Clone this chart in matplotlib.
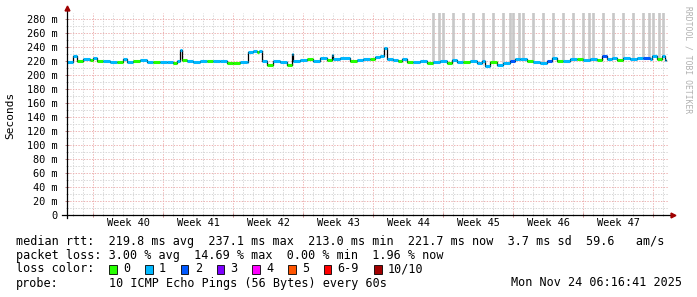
import matplotlib
matplotlib.use('Agg')
import matplotlib.pyplot as plt
import numpy as np
from matplotlib.patches import Rectangle

# time axis: days since Mon 29 Sep 2025 00:00 (start of ISO week 40)
days = [-2.6, -2.0, -1.6, -1.0, -0.3, 0.0, 0.4, 1.0, 1.7, 2.4, 3.0, 3.4, 4.0, 4.7,
        5.4, 6.0, 6.7, 7.4, 8.0, 8.4, 8.7, 8.9, 9.4, 10.0, 10.7, 11.4, 12.0, 12.7,
        13.4, 14.0, 14.7, 15.4, 15.5, 16.0, 16.4, 16.6, 16.9, 17.4, 18.0, 18.7, 19.4,
        19.9, 20.0, 20.7, 21.4, 22.0, 22.7, 23.4, 23.9, 24.0, 24.7, 25.7, 26.4, 27.0,
        27.7, 28.2, 28.7, 29.1, 29.4, 30.0, 30.5, 30.9, 31.4, 32.0, 32.7, 33.4, 34.0,
        34.7, 35.4, 35.9, 36.4, 37.0, 37.7, 38.4, 38.9, 39.2, 39.7, 40.4, 41.0, 41.7,
        42.2, 42.7, 43.4, 44.0, 44.7, 45.4, 45.9, 46.4, 47.0, 47.7, 48.4, 49.0, 49.7,
        50.4, 50.9, 51.4, 51.9, 52.4, 53.0, 53.7, 54.4, 55.0, 55.7, 55.9, 56.4, 56.9,
        57.2]
last_day = 57.3

# median rtt in ms
median_ms = [218, 226, 220, 222, 221, 223.5, 219, 220, 218, 218, 222.6, 218, 219, 221,
             218, 218.5, 218, 218.5, 216.5, 219, 234.6, 221.5, 219, 218, 220, 220, 219, 220,
             216.5, 216.5, 218, 218.5, 233, 234, 233, 234, 219, 214, 219, 218, 214,
             229, 220, 221, 222, 219, 223.5, 221, 228, 222, 224, 220, 221, 222,
             222, 225, 226, 238, 223, 221, 219, 222, 218, 218, 219, 216.5, 218,
             220, 216.5, 221, 218, 218, 220, 216.5, 219, 213, 218, 214, 216.5, 219,
             222, 222, 219, 218, 216.5, 220, 223.5, 219, 220, 222, 222, 221, 222,
             221, 227, 222, 224, 221, 223.5, 222, 223.5, 224, 222, 227, 222, 227,
             221]

# lost pings (of 10) per sample
loss = [1, 1, 0, 1, 0, 1, 0, 1, 1, 0, 1, 1, 0, 1,
        1, 0, 1, 1, 0, 1, 1, 0, 1, 1, 1, 0, 1, 1,
        0, 0, 1, 1, 1, 1, 0, 1, 1, 0, 1, 1, 0,
        1, 1, 1, 0, 1, 1, 0, 1, 1, 1, 0, 1, 1,
        0, 1, 1, 1, 1, 1, 0, 1, 0, 1, 1, 0, 1,
        1, 0, 1, 1, 0, 1, 1, 1, 1, 0, 1, 1, 2,
        1, 1, 0, 1, 1, 2, 1, 0, 1, 1, 0, 1, 1,
        0, 2, 1, 1, 0, 1, 1, 1, 2, 1, 1, 0, 1,
        1]

# samples where single pings went off the scale (smoke)
smoke_days = [34.0, 34.6, 35.0, 36.0, 37.0, 38.0, 39.0, 40.0, 41.0, 41.7, 42.0, 42.6,
              43.0, 44.0, 45.0, 46.0, 47.0, 48.0, 49.0, 49.6, 50.0, 51.0, 52.0, 53.0,
              54.0, 55.0, 55.6, 56.0, 56.6, 57.0]

weeks = [40, 41, 42, 43, 44, 45, 46, 47]

loss_labels = ['0', '1', '2', '3', '4', '5', '6-9', '10/10']
loss_colors = ['#26ff00', '#00b8ff', '#0059ff', '#7e00ff', '#ff00ff', '#ff5500', '#ff0000', '#a10000']

stat_lines = [
    'median rtt:  219.8 ms avg  237.1 ms max  213.0 ms min  221.7 ms now  3.7 ms sd  59.6   am/s',
    'packet loss: 3.00 % avg  14.69 % max  0.00 % min  1.96 % now',
]
probe_text = '10 ICMP Echo Pings (56 Bytes) every 60s'
stamp = 'Mon Nov 24 06:16:41 2025'

W, H = 697, 297
mono = 'DejaVu Sans Mono'
fig = plt.figure(figsize=(W / 100, H / 100), dpi=100)
fig.patch.set_facecolor('white')


def fx(px):
    return px / W


def fy(py):
    return 1 - py / H


ax = fig.add_axes([fx(67), fy(215), fx(668) - fx(67), (215 - 13) / H])
ax.set_xlim(-2.6, 57.5)
ax.set_ylim(0, 288)
for s in ax.spines.values():
    s.set_visible(False)

# grid
dot = (0, (1.4, 1.4))
yt = np.arange(0, 281, 20)
ax.set_yticks(yt)
ax.set_yticks(np.arange(10, 281, 20), minor=True)
ax.set_yticklabels(['0'] + ['%d m' % v for v in yt[1:]])
wb = [7 * i for i in range(len(weeks) + 1)]
ax.set_xticks(wb)
ax.set_xticks(np.arange(-2, 58, 1), minor=True)
ax.set_xticklabels([])
ax.grid(True, which='minor', color='#d6d6d6', linestyle=dot, lw=0.7)
ax.grid(True, which='major', color='#edb2b2', linestyle=dot, lw=0.7)
ax.set_axisbelow(True)
ax.tick_params(axis='y', which='major', length=3, direction='inout', width=0.7,
               color='#c08080', labelsize=7.4, pad=5)
ax.tick_params(axis='y', which='minor', length=2, direction='inout', width=0.7, color='#b0b0b0')
ax.tick_params(axis='x', which='major', length=3, direction='inout', width=0.7, color='#c08080')
ax.tick_params(axis='x', which='minor', length=2, direction='inout', width=0.7, color='#b0b0b0')
for lab in ax.get_yticklabels():
    lab.set_fontfamily(mono)

# week labels centered in each week
for i, w in enumerate(weeks):
    ax.text(7 * i + 3.5, -11.5, 'Week %d' % w, ha='center', va='center',
            fontsize=7.4, family=mono, clip_on=False)

# smoke bars
t = np.array(days)
v = np.array(median_ms)
ax.vlines(smoke_days, np.interp(smoke_days, t, v), 300, colors='#c8c8c8', lw=1.9, zorder=2)

# median line: black step underneath, loss coloured segments on top
t_ext = np.append(t, last_day)
ax.step(t_ext, np.append(v, v[-1]), where='post', color='black', lw=0.9, zorder=3)
seg_colors = [loss_colors[k] for k in loss]
ax.hlines(v, t_ext[:-1], t_ext[1:], colors=seg_colors, lw=2.2, zorder=4)

# axes with arrows
ax.plot([0, 0], [-0.015, 1.02], transform=ax.transAxes, color='black', lw=0.9, clip_on=False, zorder=5)
ax.plot([-0.008, 1.006], [0, 0], transform=ax.transAxes, color='black', lw=0.9, clip_on=False, zorder=5)
ax.plot([0], [1.025], marker='^', ms=3.5, color='#a00000', transform=ax.transAxes, clip_on=False, zorder=6)
ax.plot([1.008], [0], marker='>', ms=3.5, color='#a00000', transform=ax.transAxes, clip_on=False, zorder=6)

# y label and watermark
fig.text(fx(10), fy(115), 'Seconds', rotation=90, ha='center', va='center',
         fontsize=8, family=mono)
fig.text(fx(688), fy(60), 'RRDTOOL / TOBI OETIKER', rotation=270, ha='center', va='center',
         fontsize=5.8, family=mono, color='#b0b0b0')

# legend block
cw = 7.15
x0 = 16
fs = 8.5
fig.text(fx(x0), fy(241), stat_lines[0], ha='left', va='center', fontsize=fs, family=mono)
fig.text(fx(x0), fy(255), stat_lines[1], ha='left', va='center', fontsize=fs, family=mono)
fig.text(fx(x0), fy(269), 'loss color:', ha='left', va='center', fontsize=fs, family=mono)
col = 13
for lab, c in zip(loss_labels, loss_colors):
    bx = x0 + col * cw + 0.5
    fig.patches.append(Rectangle((fx(bx), fy(273.5)), 7.5 / W, 9 / H, transform=fig.transFigure,
                                 facecolor=c, edgecolor='black', lw=0.6))
    fig.text(fx(x0 + (col + 2) * cw), fy(269), lab, ha='left', va='center', fontsize=fs, family=mono)
    col += 2 + len(lab) + 2
fig.text(fx(x0), fy(283), 'probe:', ha='left', va='center', fontsize=fs, family=mono)
fig.text(fx(x0 + 13 * cw), fy(283), probe_text, ha='left', va='center', fontsize=fs, family=mono)
fig.text(fx(682), fy(283), stamp, ha='right', va='center', fontsize=fs, family=mono)

fig.savefig('out.png', dpi=100, facecolor='white')
